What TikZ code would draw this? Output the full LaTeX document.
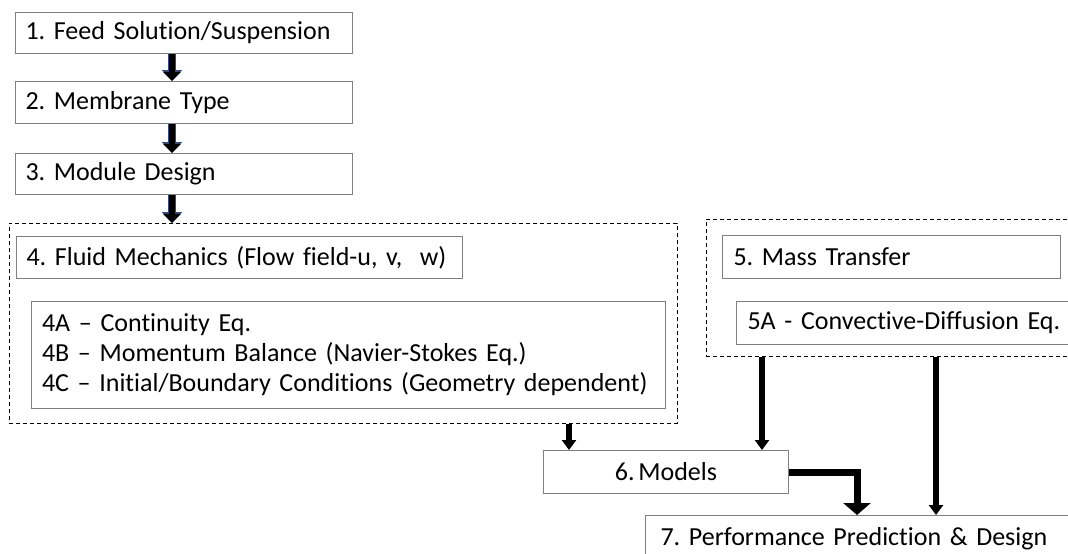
\documentclass[tikz,border=0pt]{standalone}
\usepackage{fontspec}
\setmainfont{Carlito}[Ligatures=NoCommon, WordSpace=0.62]
\usetikzlibrary{arrows.meta,calc}
\definecolor{boxgray}{HTML}{7F7F7F}
\definecolor{arrnavy}{HTML}{2F4A80}
\frenchspacing
\begin{document}
\begin{tikzpicture}[x=1pt,y=-1pt,
  font=\fontsize{26}{30}\selectfont,
  lbox/.style={draw=boxgray, line width=1pt, anchor=north west, inner ysep=0pt, inner xsep=10pt, align=left},
  cbox/.style={draw=boxgray, line width=1pt, anchor=north west, inner sep=0pt, align=center},
  dbox/.style={draw=black, line width=0.9pt, dash pattern=on 4pt off 3pt, anchor=north west, inner sep=0pt},
  navyarr/.style={draw=black, line width=5.5pt, -{Triangle[width=17pt,length=9pt]},
     preaction={draw=arrnavy, line width=7.5pt, -{Triangle[width=20pt,length=11pt]}}},
  smallarr/.style={draw=black, line width=6pt, -{Triangle[width=14pt,length=10pt]}},
  bigarr/.style={draw=black, line width=7pt, -{Triangle[width=27pt,length=12pt]}}
]
\useasboundingbox (0,0) rectangle (1068,554);
\clip (0,0) rectangle (1068,554);

% top boxes
\node[lbox, minimum width=337pt, minimum height=41pt, text width=317pt] (b1) at (15,12) {\mbox{1. Feed Solution/Suspension}};
\node[lbox, minimum width=337pt, minimum height=42pt, text width=317pt] (b2) at (15,81) {\mbox{2. Membrane Type}};
\node[lbox, minimum width=337pt, minimum height=41pt, text width=317pt] (b3) at (15,153) {\mbox{3. Module Design}};

% dashed group 4
\node[dbox, minimum width=668pt, minimum height=200pt] (d4) at (9,223) {};
\node[lbox, minimum width=446pt, minimum height=42pt, text width=426pt] (b4) at (16,236) {\mbox{4. Fluid Mechanics (Flow field-u, v,\ \ w)}};
\node[lbox, minimum width=634pt, minimum height=107pt, text width=613pt, inner xsep=10.5pt] (b4a) at (31,301)
  {\mbox{4A -- Continuity Eq.}\\\mbox{4B -- Momentum Balance (Navier-Stokes Eq.)}\\\mbox{4C -- Initial/Boundary Conditions (Geometry dependent)}};

% dashed group 5
\node[dbox, minimum width=420pt, minimum height=137pt] (d5) at (706,219) {};
\node[lbox, minimum width=338pt, minimum height=43pt, text width=316pt, inner xsep=11pt] (b5) at (722,235) {\mbox{5. Mass Transfer}};
\node[lbox, minimum width=420pt, minimum height=43pt, text width=398pt, inner xsep=11pt] (b5a) at (736,301) {\mbox{5A - Convective-Diffusion Eq.}};

% models and performance
\node[cbox, minimum width=245pt, minimum height=43pt] (b6) at (543,450) {6. Models};
\node[lbox, minimum width=460pt, minimum height=46pt, text width=430pt, inner xsep=15pt] (b7) at (645,515) {\mbox{7. Performance Prediction \& Design}};

% arrow columns
\coordinate (ax) at (172,0);
\coordinate (c1) at (569,0);
\coordinate (c2) at (762,0);
\coordinate (c3) at (936,0);
\coordinate (ex) at (857,0);

\draw[navyarr] (b1.south -| ax) -- (b2.north -| ax);
\draw[navyarr] (b2.south -| ax) -- (b3.north -| ax);
\draw[navyarr] (b3.south -| ax) -- (d4.north -| ax);

\draw[smallarr] (d4.south -| c1) -- (b6.north -| c1);
\draw[smallarr] (d5.south -| c2) -- (b6.north -| c2);
\draw[smallarr] (d5.south -| c3) -- (b7.north -| c3);
\draw[bigarr] (b6.east) -| (b7.north -| ex);
\end{tikzpicture}
\end{document}
